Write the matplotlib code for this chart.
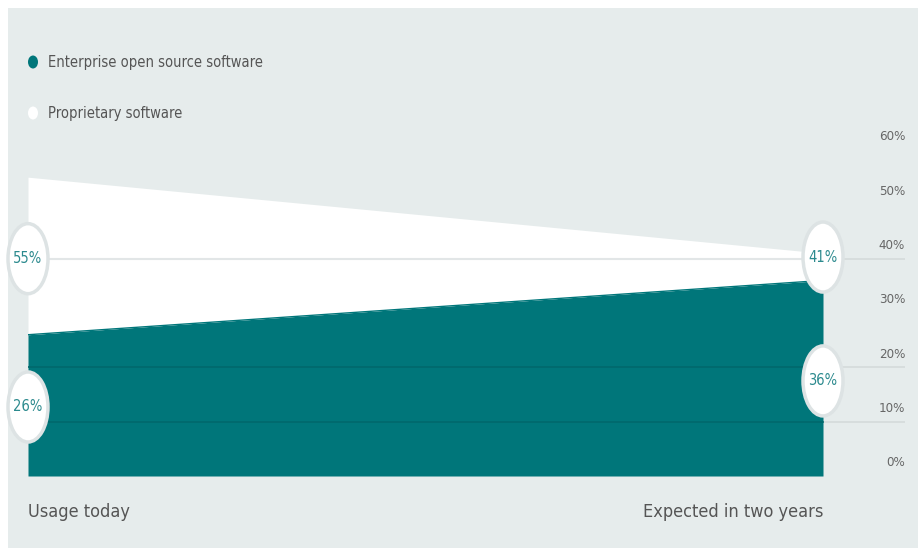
import matplotlib
matplotlib.use("Agg")
import matplotlib.pyplot as plt
from matplotlib.patches import Ellipse, Rectangle

plt.rcParams['font.family'] = ['DejaVu Sans']
plt.rcParams['font.stretch'] = 'condensed'

# data
categories = ["Usage today", "Expected in two years"]
open_source = [26, 36]
proprietary = [55, 41]
y_ticks = [0, 10, 20, 30, 40, 50, 60]
grid_lines = [10, 20, 40]
series_names = ["Enterprise open source software", "Proprietary software"]

teal = "#00767a"
bg = "#e6ecec"
label_col = "#2c8a8e"
text_col = "#555555"

fig = plt.figure(figsize=(9.18, 5.48), dpi=100)
fig.patch.set_facecolor("white")
fig.add_artist(Rectangle((8 / 918, 0), 1, 1 - 8 / 548, transform=fig.transFigure,
                         facecolor=bg, edgecolor="none", zorder=-10))

W, H = 918, 548
left, right, bottom, top = 28, 905, 476, 150
ax = fig.add_axes([left / W, 1 - bottom / H, (right - left) / W, (bottom - top) / H])
ax.set_facecolor("none")
xmax = (right - left) / (823 - left)
ax.set_xlim(0, xmax)
ax.set_ylim(0, 60)
for s in ax.spines.values():
    s.set_visible(False)
ax.set_xticks([])
ax.set_yticks([])

x = [0, 1]
ax.fill_between(x, 0, open_source, color=teal, lw=0, zorder=1)
ax.fill_between(x, open_source, proprietary, color="white", lw=0, zorder=1)

for g in grid_lines:
    ax.axhline(g, color="#d4dadb", lw=1.2, zorder=0.5)
    ax.plot([0, 1], [g, g], color="#00686c", lw=1.2, zorder=1.5)
# lines over white area
ax.plot([0, 1], [40, 40], color="#e2e6e7", lw=1.5, zorder=1.6)
ax.plot([0, 1], [open_source[0], open_source[1]], color=teal, lw=1.0, zorder=1.7)

for t in y_ticks:
    ax.text(xmax, t + 2.4, f"{t}%", ha="right", va="center", fontsize=9.5,
            color="#666666")

# value badges
ew, eh = 40 / 795, 70 / 5.43
badges = [(0, 40, proprietary[0]), (0, 12.7, open_source[0]),
          (1, 40.3, proprietary[1]), (1, 17.5, open_source[1])]
for bx, by, v in badges:
    ax.add_patch(Ellipse((bx, by), ew, eh, facecolor="white", edgecolor="#dde3e4",
                         lw=2.5, zorder=3, clip_on=False))
    ax.text(bx, by, f"{v}%", ha="center", va="center", fontsize=10.5,
            color=label_col, zorder=4)

# category labels
fig.text(28 / W, 1 - 512 / H, categories[0], ha="left", va="center",
         fontsize=13, color=text_col)
fig.text(823 / W, 1 - 512 / H, categories[1], ha="right", va="center",
         fontsize=13, color=text_col)

# legend
for i, (name, c) in enumerate(zip(series_names, [teal, "white"])):
    yy = 1 - (62 + 51 * i) / H
    fig.add_artist(Ellipse((33 / W, yy), 10 / W, 13 / H, transform=fig.transFigure,
                           facecolor=c, edgecolor="none"))
    fig.text(48 / W, yy, name, ha="left", va="center", fontsize=10.5, color=text_col)

fig.savefig("out.png", dpi=100)
